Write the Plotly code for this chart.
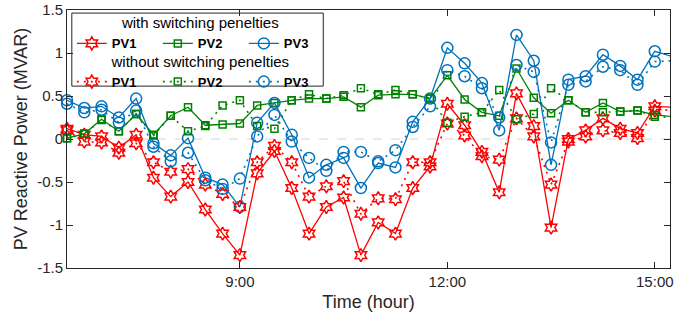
import plotly.graph_objects as go

times = ["6:30", "6:45", "7:00", "7:15", "7:30", "7:45", "8:00", "8:15", "8:30", "8:45",
         "9:00", "9:15", "9:30", "9:45", "10:00", "10:15", "10:30", "10:45", "11:00", "11:15",
         "11:30", "11:45", "12:00", "12:15", "12:30", "12:45", "13:00", "13:15", "13:30", "13:45",
         "14:00", "14:15", "14:30", "14:45", "15:00", "15:15"]

pv1_with = [0.12, 0.05, 0.03, -0.10, 0.05, -0.45, -0.67, -0.50, -0.82, -1.10,
            -1.35, -0.40, -0.14, -0.57, -1.10, -0.79, -0.68, -1.35, -0.97, -1.10,
            -0.57, -0.32, 0.41, 0.16, -0.15, -0.62, 0.53, 0.15, -1.03, 0.00,
            0.10, 0.24, 0.12, 0.07, 0.38, 0.37]
pv2_with = [0.01, 0.06, 0.23, 0.09, 0.29, 0.05, 0.27, 0.37, 0.16, 0.17,
            0.18, 0.39, 0.42, 0.45, 0.47, 0.47, 0.49, 0.37, 0.51, 0.52,
            0.52, 0.47, 0.74, 0.46, 0.31, 0.27, 0.82, 0.48, 0.30, 0.45,
            0.31, 0.42, 0.32, 0.33, 0.28, 0.26]
pv3_with = [0.45, 0.36, 0.38, 0.25, 0.47, -0.05, -0.19, 0.01, -0.45, -0.53,
            -0.79, 0.19, 0.42, 0.05, -0.45, -0.30, -0.22, -0.57, -0.28, -0.33,
            0.20, 0.47, 1.06, 0.88, 0.65, 0.10, 1.21, 0.91, -0.30, 0.69,
            0.73, 0.98, 0.85, 0.69, 1.02, 0.96]

pv1_without = [0.10, -0.03, -0.04, -0.16, -0.05, -0.27, -0.38, -0.35, -0.53, -0.64,
               -0.79, -0.27, -0.08, -0.27, -0.67, -0.55, -0.49, -0.87, -0.69, -0.70,
               -0.27, -0.27, 0.18, 0.04, -0.20, -0.24, 0.24, 0.03, -0.53, -0.03,
               0.03, 0.10, 0.07, 0.01, 0.33, 0.34]
pv2_without = [0.01, 0.06, 0.22, 0.09, 0.29, 0.04, 0.27, 0.09, 0.15, 0.39,
               0.45, 0.15, 0.12, 0.45, 0.52, 0.47, 0.51, 0.59, 0.52, 0.57,
               0.52, 0.47, 0.19, 0.26, 0.31, 0.57, 0.23, 0.29, 0.59, 0.45,
               0.31, 0.31, 0.32, 0.33, 0.26, 0.25]
pv3_without = [0.41, 0.31, 0.34, 0.19, 0.33, -0.09, -0.26, -0.16, -0.48, -0.58,
               -0.46, 0.03, 0.28, -0.03, -0.22, -0.37, -0.15, -0.15, -0.26, -0.13,
               0.14, 0.38, 0.80, 0.73, 0.59, 0.25, 0.86, 0.78, -0.04, 0.63,
               0.67, 0.84, 0.80, 0.63, 0.90, 0.91]

x_tick_vals = [9, 12, 15]
x_tick_text = ["9:00", "12:00", "15:00"]
y_tick_vals = [-1.5, -1, -0.5, 0, 0.5, 1, 1.5]
y_tick_text = ["-1.5", "-1", "-0.5", "0", "0.5", "1", "1.5"]


def to_hours(t):
    h, m = t.split(":")
    return int(h) + int(m) / 60.0


x = [to_hours(t) for t in times]

RED = "#FF0000"
GREEN = "#008000"
BLUE = "#0072BD"

styles = [
    ("PV1", RED, "hexagram-open", 10),
    ("PV2", GREEN, "square-open", 7),
    ("PV3", BLUE, "circle-open", 11),
]

fig = go.Figure()
fig.add_hline(y=0, line=dict(color="#d4d4d4", dash="dash", width=1), layer="below")

for (name, color, sym, size), ys in zip(styles, [pv1_with, pv2_with, pv3_with]):
    fig.add_trace(go.Scatter(
        x=x, y=ys, mode="lines+markers", name=name, legend="legend",
        line=dict(color=color, width=1.3),
        marker=dict(symbol=sym, size=size, color=color, line=dict(width=1.5, color=color)),
        cliponaxis=False,
    ))
for (name, color, sym, size), ys in zip(styles, [pv1_without, pv2_without, pv3_without]):
    fig.add_trace(go.Scatter(
        x=x, y=ys, mode="lines+markers", name=name, legend="legend2",
        line=dict(color=color, width=1.6, dash="2px,5px"),
        marker=dict(symbol=sym, size=size, color=color, line=dict(width=1.5, color=color)),
        cliponaxis=False,
    ))

font_family = "Liberation Sans, Arial, sans-serif"
axis_color = "#262626"

legend_common = dict(
    xanchor="left", yanchor="top", orientation="h",
    bgcolor="rgba(255,255,255,0)", borderwidth=0,
    font=dict(size=13, weight="bold", color="black"),
    entrywidth=41, itemwidth=30, tracegroupgap=0,
)

fig.update_layout(
    width=674, height=325,
    margin=dict(l=67, r=4, t=10, b=57),
    paper_bgcolor="white", plot_bgcolor="white",
    font=dict(family=font_family, color=axis_color, size=15),
    xaxis=dict(
        range=[6.5, 15.22], tickvals=x_tick_vals, ticktext=x_tick_text,
        showline=True, mirror="ticks", linecolor=axis_color, linewidth=1,
        ticks="inside", ticklen=6, tickcolor=axis_color, showgrid=False, zeroline=False,
        tickfont=dict(size=15), automargin=False,
        title=dict(text="Time (hour)", font=dict(size=18), standoff=6),
    ),
    yaxis=dict(
        range=[-1.5, 1.5], tickvals=y_tick_vals, ticktext=y_tick_text,
        showline=True, mirror="ticks", linecolor=axis_color, linewidth=1,
        ticks="inside", ticklen=6, tickcolor=axis_color, showgrid=False, zeroline=False,
        tickfont=dict(size=15), automargin=False,
        title=dict(text="PV Reactive Power (MVAR)", font=dict(size=18), standoff=4),
    ),
    legend=dict(
        x=0.008, y=1.004,
        title=dict(text="with switching penelties", side="top center",
                   font=dict(size=15, weight="normal", color="black")),
        **legend_common,
    ),
    legend2=dict(
        x=0.008, y=0.856,
        title=dict(text="without switching penelties", side="top center",
                   font=dict(size=15, weight="normal", color="black")),
        **legend_common,
    ),
    showlegend=True,
)

fig.add_shape(type="rect", xref="paper", yref="paper", x0=0.008, x1=0.425, y0=0.705, y1=0.988,
              line=dict(color=axis_color, width=1), fillcolor="white", layer="below")

fig.write_html("out.html", post_script="document.body.style.margin='0';",
               config={"displayModeBar": False})
